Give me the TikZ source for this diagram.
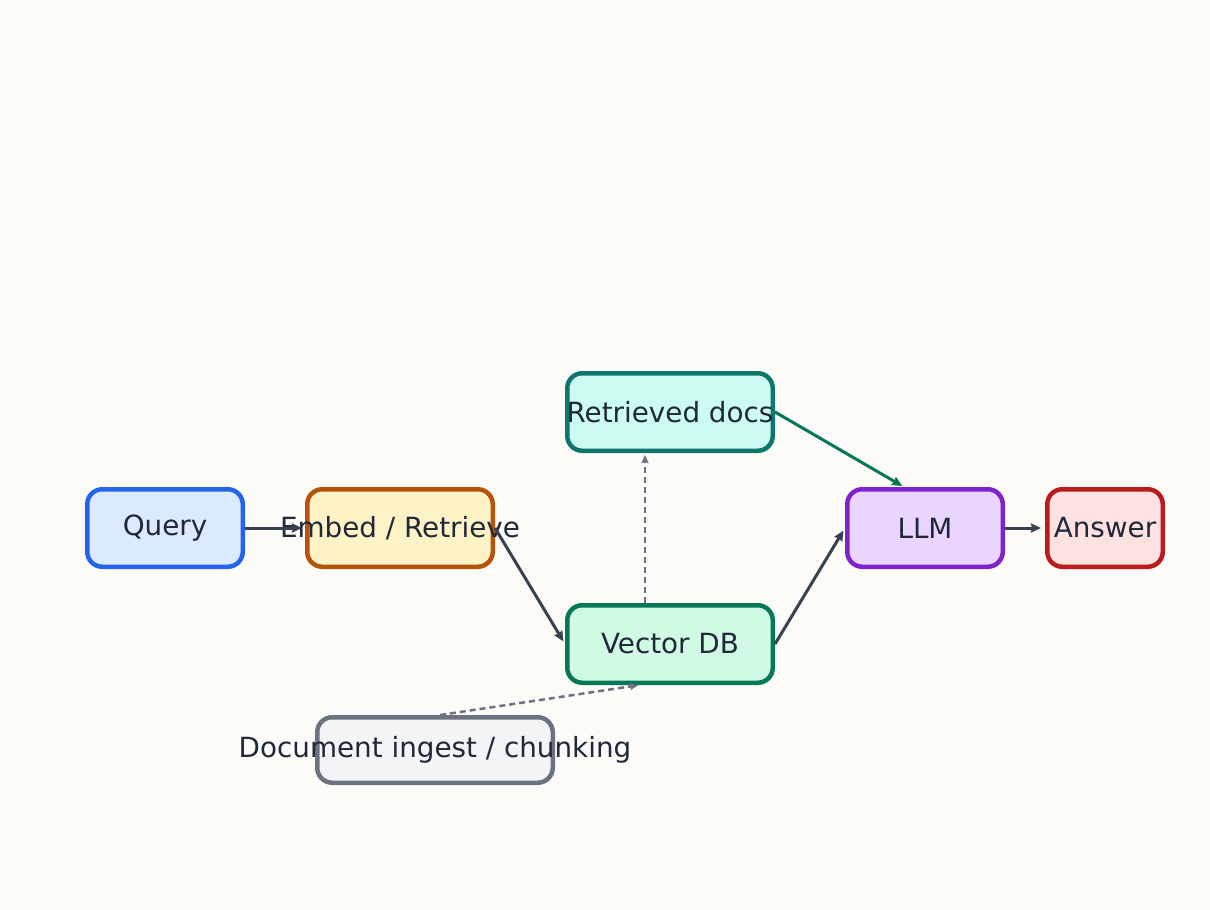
\documentclass[tikz,border=0pt]{standalone}
\usepackage{fontspec}
\setmainfont{DejaVu Sans}
\usetikzlibrary{arrows.meta}
\definecolor{bgc}{HTML}{FCFBF8}
\definecolor{txt}{HTML}{1F2937}
\definecolor{edge}{HTML}{374151}
\definecolor{dash}{HTML}{6B7280}
\definecolor{grn}{HTML}{047857}
\definecolor{qB}{HTML}{2563EB}\definecolor{qF}{HTML}{DBEAFE}
\definecolor{eB}{HTML}{B45309}\definecolor{eF}{HTML}{FEF3C7}
\definecolor{rB}{HTML}{0F766E}\definecolor{rF}{HTML}{CCFBF1}
\definecolor{vB}{HTML}{047857}\definecolor{vF}{HTML}{D1FAE5}
\definecolor{lB}{HTML}{7E22CE}\definecolor{lF}{HTML}{E9D5FF}
\definecolor{aB}{HTML}{B91C1C}\definecolor{aF}{HTML}{FEE2E2}
\definecolor{dB}{HTML}{6B7280}\definecolor{dF}{HTML}{F3F4F6}
\newcommand{\ovl}[1]{\makebox[0pt]{#1}}
\tikzset{
  box/.style={draw, rounded corners=15pt, line width=4.5pt, inner sep=0pt,
    minimum height=77.5pt, text=txt, font=\fontsize{27.8}{33}\selectfont},
  conn/.style={draw=edge, line width=3pt, -{Stealth[length=10pt,width=9pt,inset=1pt]}, shorten >=3pt},
  dconn/.style={draw=dash, line width=2.5pt, dash pattern=on 6pt off 4pt, -{Stealth[length=8pt,width=7pt,inset=1pt]}, shorten >=2pt},
  gconn/.style={draw=grn, line width=3pt, -{Stealth[length=10pt,width=9pt,inset=1pt]}, shorten >=2pt},
}
\begin{document}
\begin{tikzpicture}[x=1pt,y=-1pt]
\fill[bgc] (0,0) rectangle (1210,910);
\useasboundingbox (0,0) rectangle (1210,910);
\node[box, draw=qB, fill=qF, minimum width=155.5pt] (Q) at (165,528) {\ovl{Query}};
\node[box, draw=eB, fill=eF, minimum width=185.5pt] (E) at (400,528) {\ovl{Embed / Retrieve}};
\node[box, draw=rB, fill=rF, minimum width=205.5pt] (R) at (670,412) {\ovl{Retrieved docs}};
\node[box, draw=lB, fill=lF, minimum width=155.5pt] (L) at (925,528) {\ovl{LLM}};
\node[box, draw=aB, fill=aF, minimum width=115.5pt] (A) at (1105,528) {\ovl{Answer}};
\node[box, draw=vB, fill=vF, minimum width=205.5pt] (V) at (670,644) {\ovl{Vector DB}};
\node[box, draw=dB, fill=dF, minimum width=235.5pt, minimum height=65.5pt] (D) at (435,750) {\ovl{Document ingest / chunking}};
\draw[conn] (Q.east) -- (E.west);
\draw[conn] (E.east) -- (V.west);
\draw[conn] (V.east) -- (L.west);
\draw[conn, shorten >=4pt] (L.east) -- (A.west);
\draw[gconn] (R.east) -- ([xshift=-21pt]L.north);
\draw[dconn] ([xshift=-25pt]V.north) -- ([xshift=-25pt]R.south);
\draw[dconn] ([xshift=5pt]D.north) -- ([xshift=-30pt]V.south);
\end{tikzpicture}
\end{document}
